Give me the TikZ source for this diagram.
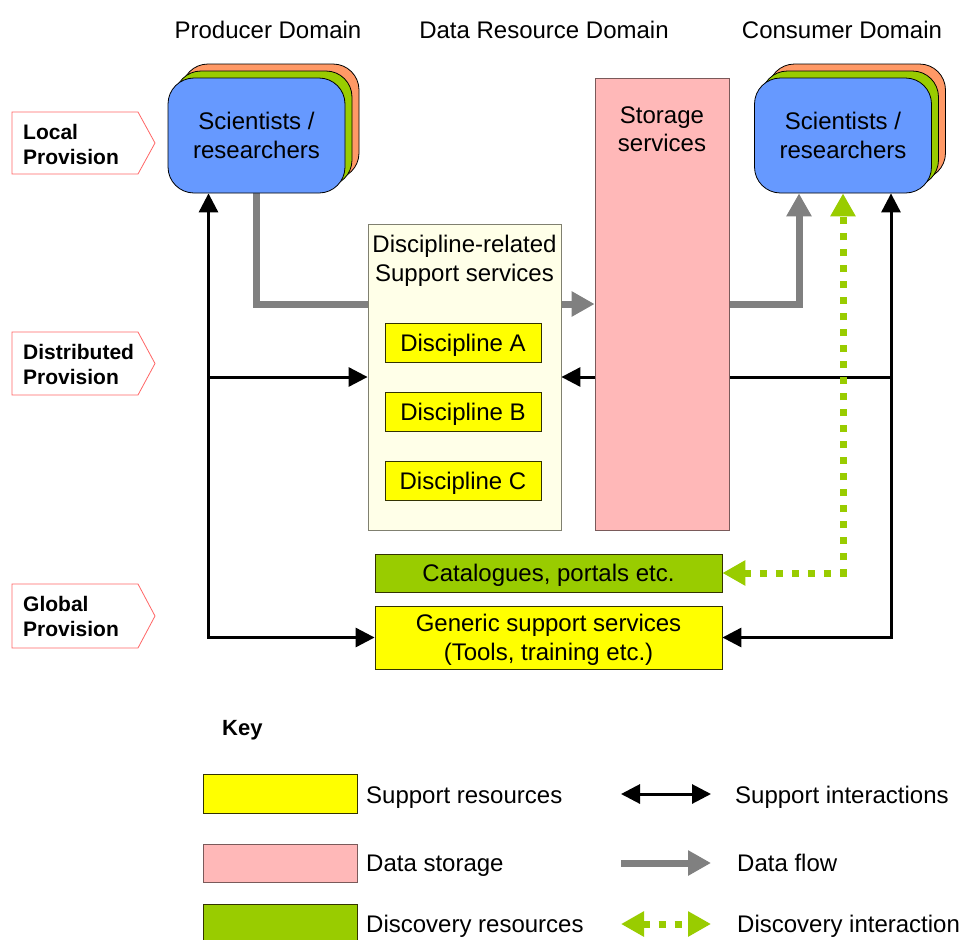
\documentclass[tikz,border=0pt]{standalone}
\usepackage{fontspec}
\setmainfont{Liberation Sans}
\usetikzlibrary{arrows.meta}
\pgfdeclarelayer{bg}
\pgfsetlayers{bg,main}

\definecolor{sciblue}{HTML}{6699FF}
\definecolor{leafgreen}{HTML}{99CC00}
\definecolor{peach}{HTML}{FF9966}
\definecolor{storepink}{HTML}{FFB8B8}
\definecolor{storeedge}{HTML}{7A5A5A}
\definecolor{cream}{HTML}{FFFFE8}
\definecolor{creamedge}{HTML}{808070}
\definecolor{suppyellow}{HTML}{FFFF00}
\definecolor{boxedge}{HTML}{333300}
\definecolor{flowgray}{HTML}{808080}
\definecolor{tagred}{HTML}{FF6666}

\begin{document}
\begin{tikzpicture}[x=1pt,y=-1pt,
  txt/.style={font=\fontsize{24}{28.5}\selectfont, align=center, inner sep=0pt, text depth=0pt},
  keytxt/.style={font=\fontsize{24}{28.5}\selectfont, anchor=west, inner sep=0pt, text depth=0pt},
  tagtxt/.style={font=\bfseries\fontsize{21}{25}\selectfont, align=left, anchor=west, inner sep=0pt, text depth=0pt},
  people/.style={rounded corners=26pt, draw=black, line width=0.8pt, minimum width=177pt, minimum height=115pt, inner sep=0pt},
  plainbox/.style={draw=boxedge, line width=0.8pt, inner sep=0pt},
  tag/.style={draw=tagred, line width=0.8pt},
  dataflow/.style={draw=flowgray, line width=7pt, -{Triangle[width=24pt,length=23pt]}},
  supportone/.style={draw=black, line width=3pt, -{Triangle[width=19pt,length=19pt]}},
  supporttwo/.style={draw=black, line width=3pt, {Triangle[width=19pt,length=19pt]}-{Triangle[width=19pt,length=19pt]}},
  discovery/.style={draw=leafgreen, line width=7pt, dash pattern=on 7pt off 9pt,
    {Triangle[width=24pt,length=23pt]}-{Triangle[width=24pt,length=23pt]}}
]
\clip (0,0) rectangle (962,940);
\begin{pgfonlayer}{bg}
  \fill[white] (0,0) rectangle (962,940);
\end{pgfonlayer}

% column headings
\node[txt] (hprod) at (268,30) {Producer Domain};
\node[txt] (hdata) at (544,30) {Data Resource Domain};
\node[txt] (hcons) at (842,30) {Consumer Domain};

% provision level tags
\draw[tag] (12,112) -- (138,112) -- (155,143) -- (138,174) -- (12,174) -- cycle;
\node[tagtxt] (tlocal) at (23,144) {Local\\Provision};
\draw[tag] (12,332) -- (138,332) -- (155,363.5) -- (138,395) -- (12,395) -- cycle;
\node[tagtxt] (tdist) at (23,364) {Distributed\\Provision};
\draw[tag] (12,584) -- (138,584) -- (155,616) -- (138,648) -- (12,648) -- cycle;
\node[tagtxt] (tglob) at (23,616) {Global\\Provision};

% scientist stacks
\foreach \cx/\nm in {256.5/prod, 843/cons}{
  \node[people, fill=peach] at (\cx+14,121.5) {};
  \node[people, fill=leafgreen] at (\cx+7,128.5) {};
  \node[people, fill=sciblue, txt] (\nm) at (\cx,135.5) {Scientists /\\researchers};
}

% storage column
\node[draw=storeedge, fill=storepink, line width=0.8pt, minimum width=134pt, minimum height=452pt, inner sep=0pt] (store) at (662,304) {};
\node[txt] (storelbl) at (662,129) {Storage\\services};

% discipline-related services
\node[draw=creamedge, fill=cream, line width=0.8pt, minimum width=193pt, minimum height=306pt, inner sep=0pt] (disc) at (464.5,377) {};
\node[txt] (disclbl) at (464.5,258.5) {Discipline-related\\Support services};
\node[plainbox, fill=suppyellow, minimum width=156pt, minimum height=39pt, txt] (da) at (463,342.5) {Discipline A};
\node[plainbox, fill=suppyellow, minimum width=156pt, minimum height=39pt, txt] (db) at (463,411.5) {Discipline B};
\node[plainbox, fill=suppyellow, minimum width=156pt, minimum height=39pt, txt] (dc) at (463,481) {Discipline C};

% global services
\node[plainbox, fill=leafgreen, minimum width=347pt, minimum height=38pt, txt] (cat) at (548.5,573) {Catalogues, portals etc.};
\node[plainbox, fill=suppyellow, minimum width=347pt, minimum height=63pt, txt] (gen) at (548.5,637.5) {Generic support services\\(Tools, training etc.)};

% connectors, kept behind the boxes
\coordinate (lx) at ([xshift=-48pt]prod.south);
\coordinate (rx) at ([xshift=48pt]cons.south);
\coordinate (gx) at ([xshift=-44pt]cons.south);
\begin{pgfonlayer}{bg}
  \draw[dataflow] (prod.south) |- (store.west);
  \draw[dataflow] (store.east) -| (gx);
  \draw[supporttwo] (lx) |- (gen.west);
  \draw[supporttwo] (rx) |- (gen.east);
  \draw[supportone] (lx |- disc.west) -- (disc.west);
  \draw[supportone] (rx |- disc.east) -- (disc.east);
  \draw[discovery] (cat.east) -| (cons.south);
\end{pgfonlayer}

% key
\node[font=\bfseries\fontsize{22}{26}\selectfont, anchor=west, inner sep=0pt, text depth=0pt] (keyhead) at (222,728) {Key};
\node[plainbox, fill=suppyellow, minimum width=154pt, minimum height=39pt] (ky) at (280,793.5) {};
\node[draw=storeedge, fill=storepink, line width=0.8pt, minimum width=154pt, minimum height=38pt, inner sep=0pt] (kp) at (280,863) {};
\node[plainbox, fill=leafgreen, minimum width=154pt, minimum height=40pt] (kg) at (280,924) {};
\node[keytxt] (kyl) at (366,795) {Support resources};
\node[keytxt] (kpl) at (366,863) {Data storage};
\node[keytxt] (kgl) at (366,924) {Discovery resources};

\coordinate (ka1) at (621,794);
\coordinate (ka2) at (711,794);
\coordinate (kb1) at (621,863);
\coordinate (kb2) at (711,863);
\coordinate (kc1) at (621,924);
\coordinate (kc2) at (711,924);
\draw[supporttwo] (ka1) -- (ka2);
\draw[dataflow] (kb1) -- (kb2);
\draw[discovery] (kc1) -- (kc2);
\node[keytxt] (kal) at (735,795) {Support interactions};
\node[keytxt] (kbl) at (737,863) {Data flow};
\node[keytxt] (kcl) at (737,924) {Discovery interaction};
\end{tikzpicture}
\end{document}
